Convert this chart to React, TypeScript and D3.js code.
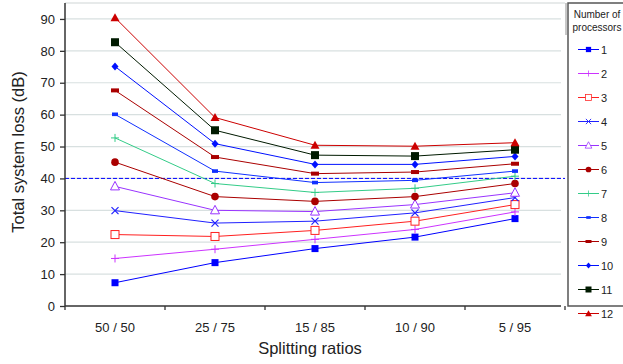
import React, { useEffect, useRef } from 'react';
import * as d3 from 'd3';

const ratios = ['50 / 50', '25 / 75', '15 / 85', '10 / 90', '5 / 95'];
const yTicks = [0, 10, 20, 30, 40, 50, 60, 70, 80, 90];
const threshold = 40;

const procs = ['1', '2', '3', '4', '5', '6', '7', '8', '9', '10', '11', '12'];
const colors = ['#0000ff', '#cc33ff', '#ff2020', '#2020ff', '#9933ff', '#aa0000',
  '#33cc88', '#1030ff', '#aa0000', '#0010ff', '#001a00', '#cc0000'];
const shapes = ['square', 'plus', 'openSquare', 'cross', 'openTriangle', 'circle',
  'plus', 'dashSmall', 'dash', 'diamond', 'bigSquare', 'triangle'];

const p1 = [7.3, 13.6, 18.0, 21.6, 27.4];
const p2 = [14.9, 17.8, 20.9, 24.0, 29.5];
const p3 = [22.4, 21.8, 23.7, 26.6, 31.8];
const p4 = [29.9, 26.0, 26.6, 29.2, 34.0];
const p5 = [37.5, 30.0, 29.6, 31.8, 35.5];
const p6 = [45.1, 34.3, 32.8, 34.3, 38.4];
const p7 = [52.7, 38.4, 35.6, 36.9, 40.7];
const p8 = [60.1, 42.3, 38.7, 39.4, 42.3];
const p9 = [67.6, 46.7, 41.5, 42.0, 44.6];
const p10 = [75.1, 50.9, 44.4, 44.4, 46.9];
const p11 = [82.7, 55.1, 47.3, 47.0, 49.0];
const p12 = [90.4, 59.1, 50.4, 50.1, 51.2];
const series = [p1, p2, p3, p4, p5, p6, p7, p8, p9, p10, p11, p12];

const W = 623, H = 364;
const left = 65, right = 565, top = 3, bottom = 306;

// draw one marker centred on 0,0 inside g
function drawMarker(g: any, shape: string, color: string) {
  switch (shape) {
    case 'square':
      g.append('rect').attr('x', -3.5).attr('y', -3.5).attr('width', 7).attr('height', 7).attr('fill', color);
      break;
    case 'bigSquare':
      g.append('rect').attr('x', -4).attr('y', -4).attr('width', 8).attr('height', 8).attr('fill', color);
      break;
    case 'openSquare':
      g.append('rect').attr('x', -4).attr('y', -4).attr('width', 8).attr('height', 8)
        .attr('fill', '#fff').attr('stroke', color).attr('stroke-width', 1);
      break;
    case 'plus':
      g.append('path').attr('d', 'M-4,0H4M0,-4V4').attr('stroke', color).attr('stroke-width', 1);
      break;
    case 'cross':
      g.append('path').attr('d', 'M-3.5,-3.5L3.5,3.5M-3.5,3.5L3.5,-3.5').attr('stroke', color).attr('stroke-width', 1.2);
      break;
    case 'openTriangle':
      g.append('path').attr('d', 'M0,-5L4.5,3.5H-4.5Z').attr('fill', '#fff').attr('stroke', color).attr('stroke-width', 1);
      break;
    case 'triangle':
      g.append('path').attr('d', 'M0,-4.5L4.5,3.5H-4.5Z').attr('fill', color);
      break;
    case 'circle':
      g.append('circle').attr('r', 3.8).attr('fill', color);
      break;
    case 'diamond':
      g.append('path').attr('d', 'M0,-4L3.5,0L0,4L-3.5,0Z').attr('fill', color);
      break;
    case 'dashSmall':
      g.append('rect').attr('x', -3).attr('y', -1.8).attr('width', 6).attr('height', 3.6).attr('fill', color);
      break;
    case 'dash':
      g.append('rect').attr('x', -4).attr('y', -2).attr('width', 8).attr('height', 4).attr('fill', color);
      break;
  }
}

export default function App() {
  const ref = useRef<SVGSVGElement>(null);

  useEffect(() => {
    const svg = d3.select(ref.current);
    svg.selectAll('*').remove();

    const x = d3.scaleBand().domain(ratios).range([left, right]);
    const y = d3.scaleLinear().domain([0, 95]).range([bottom, top]);
    const font = 'Liberation Sans, Arial, sans-serif';

    svg.append('rect').attr('width', W).attr('height', H).attr('fill', '#fff');

    // gridlines
    svg.append('g').selectAll('line').data(yTicks.filter(d => d > 0)).enter().append('line')
      .attr('x1', left).attr('x2', right - 4)
      .attr('y1', d => y(d)).attr('y2', d => y(d))
      .attr('stroke', '#d8e0e0').attr('stroke-width', 1.2);
    svg.append('line').attr('x1', left).attr('x2', right).attr('y1', top).attr('y2', top)
      .attr('stroke', '#d0d6d6').attr('stroke-width', 1.2);
    svg.append('line').attr('x1', right + 1).attr('x2', right + 1).attr('y1', top).attr('y2', 35)
      .attr('stroke', '#c8c8c8').attr('stroke-width', 2);

    // threshold line
    svg.append('line').attr('x1', left).attr('x2', right)
      .attr('y1', y(threshold)).attr('y2', y(threshold))
      .attr('stroke', '#0000ff').attr('stroke-width', 1).attr('stroke-dasharray', '4,2');

    // axes
    const yAxis = svg.append('g').attr('transform', `translate(${left},0)`)
      .call(d3.axisLeft(y).tickValues(yTicks).tickSize(5).tickPadding(5));
    yAxis.select('.domain').remove();
    yAxis.selectAll('line').attr('stroke', '#333').attr('stroke-width', 1.3);
    yAxis.selectAll('text').attr('font-family', font).attr('font-size', 13).attr('fill', '#222');

    const xTickPos = ratios.map(r => x(r) as number).concat([right]);
    svg.append('g').selectAll('line').data(xTickPos).enter().append('line')
      .attr('x1', d => d).attr('x2', d => d).attr('y1', bottom).attr('y2', bottom + 4)
      .attr('stroke', '#333').attr('stroke-width', 1.3);
    svg.append('g').selectAll('text').data(ratios).enter().append('text')
      .attr('x', d => (x(d) as number) + x.bandwidth() / 2).attr('y', 332)
      .attr('text-anchor', 'middle').attr('font-family', font).attr('font-size', 13).attr('fill', '#222')
      .text(d => d);

    svg.append('line').attr('x1', left).attr('x2', left).attr('y1', top).attr('y2', bottom)
      .attr('stroke', '#333').attr('stroke-width', 1.5);
    svg.append('line').attr('x1', left).attr('x2', right - 4).attr('y1', bottom).attr('y2', bottom)
      .attr('stroke', '#333').attr('stroke-width', 1.5);

    // titles
    svg.append('text').attr('x', 310).attr('y', 354).attr('text-anchor', 'middle')
      .attr('font-family', font).attr('font-size', 16.5).attr('fill', '#222').text('Splitting ratios');
    svg.append('text').attr('transform', 'translate(24,152) rotate(-90)').attr('text-anchor', 'middle')
      .attr('font-family', font).attr('font-size', 16.5).attr('fill', '#222').text('Total system loss (dB)');

    // series
    const line = d3.line<number>()
      .x((_, i) => (x(ratios[i]) as number) + x.bandwidth() / 2)
      .y(d => y(d));

    series.forEach((vals, s) => {
      svg.append('path').datum(vals).attr('d', line).attr('fill', 'none')
        .attr('stroke', colors[s]).attr('stroke-width', 1);
      vals.forEach((v, i) => {
        const g = svg.append('g')
          .attr('transform', `translate(${(x(ratios[i]) as number) + x.bandwidth() / 2},${y(v)})`);
        drawMarker(g, shapes[s], colors[s]);
      });
    });

    // legend
    const lx = 568;
    svg.append('rect').attr('x', lx).attr('y', top).attr('width', 70).attr('height', bottom - top)
      .attr('fill', '#fff').attr('stroke', '#555').attr('stroke-width', 1.5);
    svg.append('text').attr('x', 597).attr('y', 18).attr('text-anchor', 'middle')
      .attr('font-family', font).attr('font-size', 10).attr('fill', '#222').text('Number of');
    svg.append('text').attr('x', 597).attr('y', 31).attr('text-anchor', 'middle')
      .attr('font-family', font).attr('font-size', 10).attr('fill', '#222').text('processors');

    const ly = d3.scalePoint().domain(procs).range([49.5, 313.5]);
    procs.forEach((p, s) => {
      const yy = ly(p) as number;
      svg.append('line').attr('x1', 578).attr('x2', 599).attr('y1', yy).attr('y2', yy)
        .attr('stroke', colors[s]).attr('stroke-width', 1);
      const g = svg.append('g').attr('transform', `translate(588.5,${yy}) scale(0.75)`);
      drawMarker(g, shapes[s], colors[s]);
      svg.append('text').attr('x', 601).attr('y', yy + 4)
        .attr('font-family', font).attr('font-size', 11).attr('fill', '#222').text(p);
    });
  }, []);

  return (
    <svg ref={ref} width={W} height={H}
      style={{ position: 'absolute', left: 0, top: 0, display: 'block' }} />
  );
}
